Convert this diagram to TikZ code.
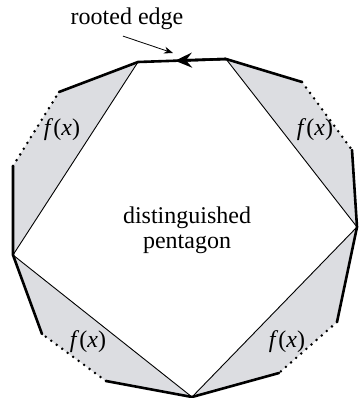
\documentclass[tikz,border=0pt]{standalone}
\usepackage{fontspec}
\setmainfont{Liberation Serif}
\newfontfamily\timesfam{Liberation Serif}
\usetikzlibrary{arrows.meta,calc}
\definecolor{shade}{RGB}{220,221,225}
\begin{document}
\begin{tikzpicture}[x=1pt,y=-1pt,
  solidedge/.style={line width=2.6pt,line cap=round,line join=round},
  dotedge/.style={line width=2.8pt,line cap=round,dash pattern=on 0pt off 6.8pt},
  diag/.style={line width=0.9pt},
  region/.style={fill=shade},
  lbl/.style={font=\timesfam\fontsize{24}{25}\selectfont,inner sep=0pt,align=center}]
\useasboundingbox (0,0) rectangle (359,398);
% pentagon vertices
\coordinate (P0) at (138,62);
\coordinate (P1) at (226,59);
\coordinate (P2) at (357,227);
\coordinate (P3) at (192,397);
\coordinate (P4) at (13,255);
% intermediate outer vertices
\coordinate (A1) at (302,82);
\coordinate (A2) at (352,150);
\coordinate (B1) at (337,322);
\coordinate (B2) at (279,373);
\coordinate (C1) at (106,381);
\coordinate (C2) at (42,334);
\coordinate (D1) at (13,166);
\coordinate (D2) at (59,92);
% grey regions
\fill[region] (P1) -- (A1) -- (A2) -- (P2) -- cycle;
\fill[region] (P2) -- (B1) -- (B2) -- (P3) -- cycle;
\fill[region] (P3) -- (C1) -- (C2) -- (P4) -- cycle;
\fill[region] (P4) -- (D1) -- (D2) -- (P0) -- cycle;
% diagonals (pentagon sides)
\draw[diag] (P1) -- (P2) -- (P3) -- (P4) -- (P0);
% outer chains
\draw[solidedge] (P1) -- (A1);
\draw[dotedge] (A1) -- (A2);
\draw[solidedge] (A2) -- (P2) -- (B1);
\draw[dotedge] (B1) -- (B2);
\draw[solidedge] (B2) -- (P3) -- (C1);
\draw[dotedge] (C1) -- (C2);
\draw[solidedge] (C2) -- (P4) -- (D1);
\draw[dotedge] (D1) -- (D2);
\draw[solidedge] (D2) -- (P0) -- (P1);
% rooted edge arrow
\coordinate (R) at ($(P1)!0.58!(P0)$);
\draw[line width=2.6pt,-{Stealth[length=17pt,width=15pt,inset=6pt]}] (P1) -- (R);
% labels
\node[lbl] (root) at (127,19) {rooted edge};
\coordinate (rt) at (173,53);
\draw[line width=0.8pt,-{Stealth[length=9pt,width=7pt]}] (root.south) ++(-4,6) -- (rt);
\node[lbl] (dp) at (187,230) {distinguished\\pentagon};
\node[lbl] (f1) at (62,130) {\textit{f}(\textit{x})};
\node[lbl] (f2) at (315,130) {\textit{f}(\textit{x})};
\node[lbl] (f3) at (88,342) {\textit{f}(\textit{x})};
\node[lbl] (f4) at (287,342) {\textit{f}(\textit{x})};
\end{tikzpicture}
\end{document}
